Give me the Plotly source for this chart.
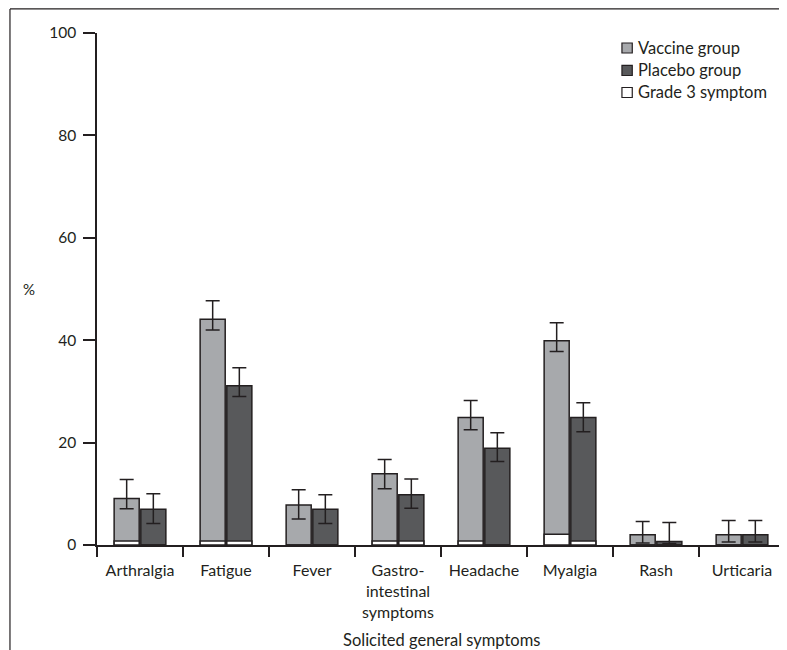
import plotly.graph_objects as go

categories = ["Arthralgia", "Fatigue", "Fever", "Gastro-<br>intestinal<br>symptoms",
              "Headache", "Myalgia", "Rash", "Urticaria"]
vaccine = [9.1, 44.1, 7.8, 13.9, 24.9, 39.9, 2.0, 2.0]
vaccine_hi = [12.8, 47.7, 10.8, 16.7, 28.2, 43.4, 4.6, 4.8]
vaccine_lo = [7.1, 42.0, 5.1, 11.0, 22.5, 37.8, 0.4, 0.6]
placebo = [7.0, 31.1, 7.0, 9.8, 18.9, 24.9, 0.7, 2.0]
placebo_hi = [10.0, 34.6, 9.8, 12.9, 21.9, 27.8, 4.4, 4.8]
placebo_lo = [4.2, 29.0, 4.2, 7.2, 16.3, 22.1, 0.3, 0.6]
grade3_vaccine = [0.8, 0.8, 0, 0.8, 0.8, 2.1, 0, 0]
grade3_placebo = [0, 0.8, 0, 0.8, 0, 0.8, 0, 0]
y_ticks = [0, 20, 40, 60, 80, 100]
legend_labels = ["Vaccine group", "Placebo group", "Grade 3 symptom"]

INK = "#231f20"
VAC = "#a7a9ac"
PLA = "#58595b"
FONT = "Lato"

def err(vals, hi, lo):
    return dict(type="data", symmetric=False,
                array=[h - v for v, h in zip(vals, hi)],
                arrayminus=[v - l for v, l in zip(vals, lo)],
                color=INK, thickness=1.5, width=7)

fig = go.Figure()
fig.add_trace(go.Bar(x=categories, y=vaccine, name=legend_labels[0], offsetgroup="v",
                     marker=dict(color=VAC, line=dict(color=INK, width=1.5)),
                     error_y=err(vaccine, vaccine_hi, vaccine_lo)))
fig.add_trace(go.Bar(x=categories, y=placebo, name=legend_labels[1], offsetgroup="p",
                     marker=dict(color=PLA, line=dict(color=INK, width=1.5)),
                     error_y=err(placebo, placebo_hi, placebo_lo)))
fig.add_trace(go.Bar(x=categories, y=grade3_vaccine, name=legend_labels[2], offsetgroup="v",
                     marker=dict(color="white", line=dict(color=INK, width=1.5))))
fig.add_trace(go.Bar(x=categories, y=grade3_placebo, name=legend_labels[2], offsetgroup="p",
                     marker=dict(color="white", line=dict(color=INK, width=1.5))))

# frame lines (left and top)
fig.add_shape(type="line", xref="paper", yref="paper", x0=-0.1265, x1=-0.1265, y0=-0.25, y1=1.047,
              line=dict(color=INK, width=1.2))
fig.add_shape(type="line", xref="paper", yref="paper", x0=-0.1265, x1=1.05, y0=1.047, y1=1.047,
              line=dict(color=INK, width=1.2))

# custom compact legend
leg_y = [0.9707, 0.9268, 0.8838]
leg_fill = [VAC, PLA, "white"]
for lab, yy, col in zip(legend_labels, leg_y, leg_fill):
    fig.add_shape(type="rect", xref="paper", yref="paper", x0=0.763, x1=0.778,
                  y0=yy - 0.0098, y1=yy + 0.0098, fillcolor=col, line=dict(color=INK, width=1.2))
    fig.add_annotation(text=lab, xref="paper", yref="paper", x=0.784, y=yy, xanchor="left",
                       yanchor="middle", showarrow=False,
                       font=dict(size=16.5, color=INK, family=FONT))

fig.add_annotation(text="%", xref="paper", yref="paper", x=-0.099, y=0.5, xanchor="center",
                   showarrow=False, font=dict(size=15, color=INK, family=FONT))
fig.add_annotation(text="Solicited general symptoms", xref="paper", yref="paper", x=0.5, y=-0.186,
                   showarrow=False, yanchor="middle", font=dict(size=16.5, color=INK, family=FONT))

fig.update_layout(
    width=779, height=642,
    margin=dict(l=89, r=2, t=25, b=105),
    paper_bgcolor="white", plot_bgcolor="white",
    font=dict(family=FONT, size=16.5, color=INK),
    barmode="group", bargap=0.38, bargroupgap=0.06,
    showlegend=False,
)
fig.update_xaxes(showline=True, linecolor=INK, linewidth=1.5, ticks="outside", ticklen=10,
                 tickcolor=INK, tickwidth=1.5, tickson="boundaries", showgrid=False,
                 ticklabelstandoff=10, tickfont=dict(size=16))
fig.update_yaxes(range=[0, 100], tickvals=y_ticks, showline=True, linecolor=INK, linewidth=1.5,
                 ticks="outside", ticklen=12, tickcolor=INK, tickwidth=1.5, showgrid=False,
                 zeroline=False, ticklabelstandoff=4, tickfont=dict(size=15.5))

fig.write_html("out.html")
